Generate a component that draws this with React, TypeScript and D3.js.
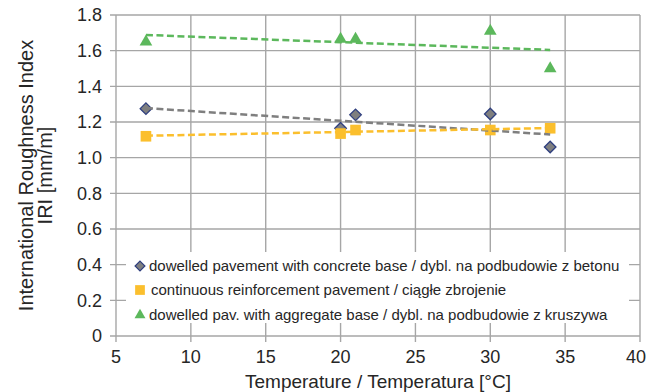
import * as d3 from "d3";
import { useEffect, useRef } from "react";

// temperature of each survey [°C]
const temps = [7, 20, 21, 30, 34];
// IRI values [mm/m] per pavement type
const concreteBase = [1.275, 1.165, 1.24, 1.245, 1.06];
const continuousReinf = [1.12, 1.135, 1.155, 1.155, 1.165];
const aggregateBase = [1.65, 1.665, 1.665, 1.71, 1.5];
// linear trend lines, read at both ends
const trendX = [7, 34];
const concreteTrend = [1.278, 1.13];
const continuousTrend = [1.123, 1.166];
const aggregateTrend = [1.688, 1.604];

const xTicks = [5, 10, 15, 20, 25, 30, 35, 40];
const yTicks = [0, 0.2, 0.4, 0.6, 0.8, 1.0, 1.2, 1.4, 1.6, 1.8];

const legendLabels = [
  "dowelled pavement with concrete base / dybl. na podbudowie z betonu",
  "continuous reinforcement pavement / ciągłe zbrojenie",
  "dowelled pav. with aggregate base / dybl. na podbudowie z kruszywa",
];

export default function App() {
  const ref = useRef<SVGSVGElement>(null);

  useEffect(() => {
    const width = 648;
    const height = 392;
    const margin = { top: 15, right: 8, bottom: 56, left: 116 };
    const font = "'Liberation Sans', Arial, sans-serif";
    const textColor = "#262626";
    const gridColor = "#a6a6a6";

    const svg = d3.select(ref.current).attr("width", width).attr("height", height);
    svg.selectAll("*").remove();

    const x = d3.scaleLinear().domain([5, 40]).range([margin.left, width - margin.right]);
    const y = d3.scaleLinear().domain([0, 1.8]).range([height - margin.bottom, margin.top]);

    svg.append("rect").attr("width", width).attr("height", height).attr("fill", "#fff");

    // grid
    const grid = svg.append("g").attr("stroke", gridColor).attr("stroke-width", 1.4);
    grid.selectAll(".gx").data(xTicks).join("line")
      .attr("x1", d => x(d)).attr("x2", d => x(d))
      .attr("y1", y(1.8)).attr("y2", y(0) + 6);
    grid.selectAll(".gy").data(yTicks).join("line")
      .attr("x1", x(5) - 6).attr("x2", x(40))
      .attr("y1", d => y(d)).attr("y2", d => y(d));

    // tick labels
    svg.append("g").selectAll("text").data(yTicks).join("text")
      .attr("x", x(5) - 14).attr("y", d => y(d)).attr("dy", "0.36em")
      .attr("text-anchor", "end")
      .style("font", `18px ${font}`).attr("fill", textColor)
      .text(d => (d === 0 ? "0" : d3.format(".1f")(d)));
    // last label is pulled in so it stays inside the picture
    svg.append("g").selectAll("text").data(xTicks).join("text")
      .attr("x", d => Math.min(x(d), width - 12)).attr("y", y(0) + 27)
      .attr("text-anchor", "middle")
      .style("font", `18px ${font}`).attr("fill", textColor)
      .text(d => d);

    // axis titles
    svg.append("text")
      .attr("x", (x(5) + x(40)) / 2).attr("y", height - 4)
      .attr("text-anchor", "middle")
      .style("font", `19px ${font}`).attr("fill", textColor)
      .text("Temperature / Temperatura [°C]");
    const yTitle = svg.append("text")
      .attr("transform", `translate(0,${(y(0) + y(1.8)) / 2}) rotate(-90)`)
      .attr("text-anchor", "middle")
      .style("font", `20px ${font}`).attr("fill", textColor);
    yTitle.append("tspan").attr("x", 0).attr("y", 33).text("International Roughness Index");
    yTitle.append("tspan").attr("x", 0).attr("y", 52).text("IRI [mm/m]");

    // legend box hides the grid behind it
    const legend = svg.append("g");
    legend.append("rect")
      .attr("x", 126).attr("y", 252).attr("width", 503).attr("height", 71)
      .attr("fill", "#fff");

    const series = [
      { values: concreteBase, trend: concreteTrend, color: "#7f7f7f", stroke: "#2f3f7f", shape: d3.symbolDiamond2, size: 85, legendSize: 62 },
      { values: continuousReinf, trend: continuousTrend, color: "#fbbf2d", stroke: "none", shape: d3.symbolSquare2, size: 144, legendSize: 121 },
      { values: aggregateBase, trend: aggregateTrend, color: "#5cb85c", stroke: "none", shape: d3.symbolTriangle2, size: 115, legendSize: 85 },
    ];

    const markerPath = (shape, size) => d3.symbol().type(shape).size(size)();

    // markers
    series.forEach(s => {
      svg.append("g").selectAll("path").data(temps).join("path")
        .attr("d", markerPath(s.shape, s.size))
        .attr("transform", (d, i) => `translate(${x(d)},${y(s.values[i])})`)
        .attr("fill", s.color)
        .attr("stroke", s.stroke)
        .attr("stroke-width", 1.3);
    });

    // trend lines
    const line = d3.line<number>().x(d => x(d[0])).y(d => y(d[1]));
    series.forEach(s => {
      svg.append("path")
        .attr("d", line(trendX.map((t, i) => [t, s.trend[i]])))
        .attr("fill", "none")
        .attr("stroke", s.color)
        .attr("stroke-width", 2.5)
        .attr("stroke-dasharray", "7,3.5");
    });

    // legend entries
    const rowY = [266, 290, 315];
    series.forEach((s, i) => {
      legend.append("path")
        .attr("d", markerPath(s.shape, s.legendSize))
        .attr("transform", `translate(140,${rowY[i]})`)
        .attr("fill", s.color)
        .attr("stroke", s.stroke)
        .attr("stroke-width", 1.2);
      legend.append("text")
        .attr("x", i === 1 ? 151 : 149).attr("y", rowY[i]).attr("dy", "0.36em")
        .style("font", `15px ${font}`).attr("fill", textColor)
        .text(legendLabels[i]);
    });
  }, []);

  return (
    <svg ref={ref} style={{ position: "absolute", left: 0, top: 0 }}></svg>
  );
}
